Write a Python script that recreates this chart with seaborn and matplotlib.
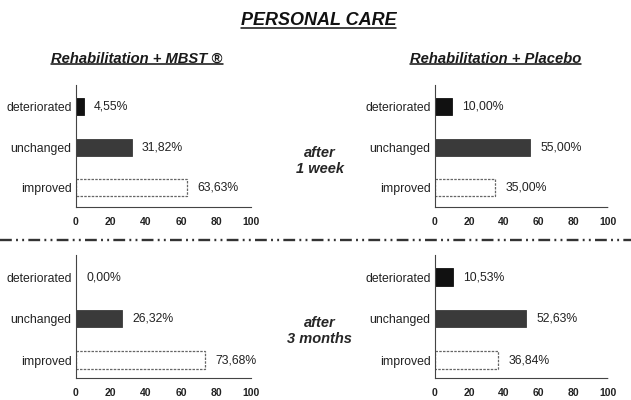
import matplotlib
matplotlib.use("Agg")
import matplotlib.pyplot as plt
import seaborn as sns
from matplotlib.lines import Line2D

sns.set_style("white")
plt.rcParams['font.family'] = ['Liberation Sans', 'DejaVu Sans']

# data
categories = ['deteriorated', 'unchanged', 'improved']
mbst_week = [4.55, 31.82, 63.63]
placebo_week = [10.00, 55.00, 35.00]
mbst_months = [0.00, 26.32, 73.68]
placebo_months = [10.53, 52.63, 36.84]
x_ticks = [0, 20, 40, 60, 80, 100]

title = 'PERSONAL CARE'
group_titles = ['Rehabilitation + MBST ®', 'Rehabilitation + Placebo']
period_labels = ['after\n1 week', 'after\n3 months']

bar_colors = ['#111111', '#3a3a3a', '#ffffff']

fig = plt.figure(figsize=(6.31, 4.0), dpi=100)

panels = [
    (mbst_week, [0.120, 0.4825, 0.278, 0.305], (2.47, -0.54)),
    (placebo_week, [0.689, 0.4825, 0.274, 0.305], (2.47, -0.54)),
    (mbst_months, [0.120, 0.055, 0.278, 0.3075], (2.43, -0.53)),
    (placebo_months, [0.689, 0.055, 0.274, 0.3075], (2.43, -0.53)),
]

for vals, rect, ylim in panels:
    ax = fig.add_axes(rect)
    sns.barplot(x=vals, y=categories, hue=categories, order=categories,
                hue_order=categories, palette=bar_colors, width=0.42,
                legend=False, ax=ax)
    for i, p in enumerate(ax.patches):
        if categories[i] == 'improved':
            p.set_facecolor('white')
            p.set_edgecolor('#666666')
            p.set_linestyle((0, (2, 1)))
            p.set_linewidth(0.9)
        else:
            p.set_edgecolor(bar_colors[i])
            p.set_linewidth(0.6)
    for i, v in enumerate(vals):
        ax.text(v + 6, i, f"{v:.2f}".replace('.', ',') + '%',
                va='center', ha='left', fontsize=8.8, color='#222222')
    ax.set_xlim(0, 100)
    ax.set_ylim(*ylim)
    ax.set_xticks(x_ticks)
    ax.set_xticklabels([str(t) for t in x_ticks], fontsize=7.5, fontweight='bold',
                       color='#222222')
    ax.set_yticks(range(len(categories)))
    ax.set_yticklabels(categories, fontsize=8.8, color='#222222')
    ax.set_yticks([-0.5, 0.5, 1.5], minor=True)
    ax.tick_params(axis='y', which='major', length=0, pad=3)
    ax.tick_params(axis='y', which='minor', length=3, direction='inout',
                   width=0.6, color='#555555')
    ax.tick_params(axis='x', length=2, width=0.6, pad=5, color='#555555')
    ax.set_xlabel('')
    ax.set_ylabel('')
    sns.despine(ax=ax)
    for s in ['left', 'bottom']:
        ax.spines[s].set_color('#444444')
        ax.spines[s].set_linewidth(0.8)
        ax.spines[s].set_linestyle((0, (3, 1)))
    ax.set_facecolor('none')

# titles
t_main = fig.text(0.505, 0.948, title, ha='center', va='center', fontsize=13,
                  fontweight='bold', style='italic', color='#111111')
t_left = fig.text(0.217, 0.853, group_titles[0], ha='center', va='center',
                  fontsize=10.6, fontweight='bold', style='italic', color='#1a1a1a')
t_right = fig.text(0.785, 0.853, group_titles[1], ha='center', va='center',
                   fontsize=10.6, fontweight='bold', style='italic', color='#1a1a1a')
fig.text(0.507, 0.597, period_labels[0], ha='center', va='center', fontsize=10.5,
         fontweight='bold', style='italic', linespacing=1.15)
fig.text(0.507, 0.172, period_labels[1], ha='center', va='center', fontsize=10.5,
         fontweight='bold', style='italic', linespacing=1.15)

# separator
fig.add_artist(Line2D([0, 1], [0.40, 0.40], transform=fig.transFigure,
                      color='#333333', linewidth=1.7,
                      linestyle=(0, (5, 1.8, 0.8, 1.8, 0.8, 1.8))))

# underline titles
fig.canvas.draw()
renderer = fig.canvas.get_renderer()
inv = fig.transFigure.inverted()
for t in [t_main, t_left, t_right]:
    bb = t.get_window_extent(renderer)
    (x0, y0), (x1, y1) = inv.transform([[bb.x0, bb.y0], [bb.x1, bb.y1]])
    fig.add_artist(Line2D([x0, x1], [y0 + 0.004, y0 + 0.004],
                          transform=fig.transFigure, color='#111111',
                          linewidth=1.1))

fig.savefig('out.png', dpi=100)
